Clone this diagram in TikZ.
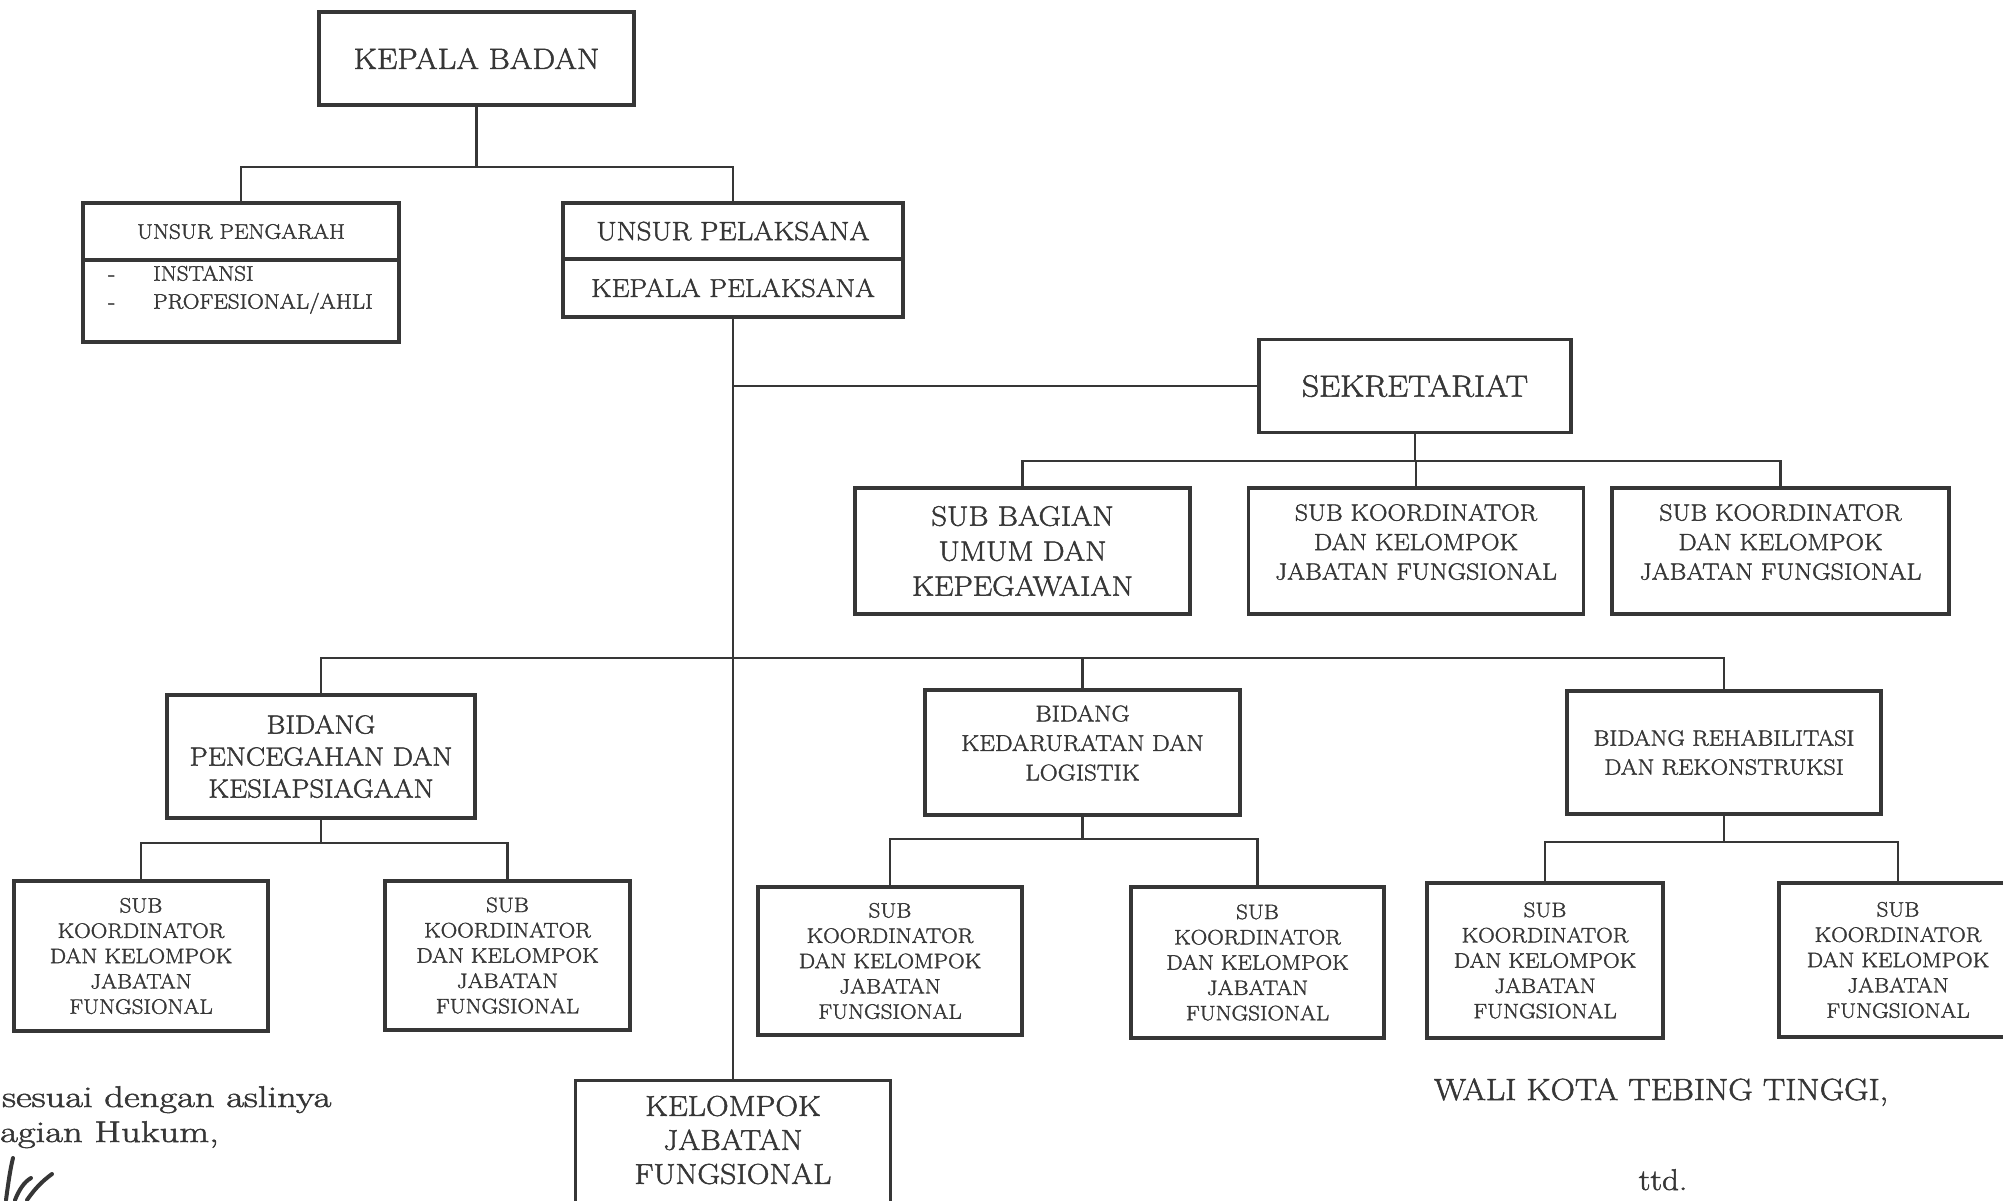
\documentclass[tikz,border=0pt]{standalone}
\usepackage{fontspec}
\setmainfont{Latin Modern Roman}[FakeStretch=1.1, FakeBold=1.6]
\usepackage{graphicx}
\definecolor{ink}{HTML}{363636}
\definecolor{txt}{HTML}{363636}
\newcommand\fsz[2]{\fontsize{#1}{#2}\selectfont}
\tikzset{
  box/.style={draw=ink, line width=3.4pt, inner sep=0pt, align=center, text=txt},
  conn/.style={draw=ink, line width=2.6pt},
  plain/.style={inner sep=0pt, text=txt},
  sig/.style={draw=ink, line width=4pt, line cap=round},
  subbox/.style={box, font=\fsz{20.9}{25.3}},
  skbox/.style={box, minimum width=335, minimum height=126},
  sktext/.style={plain, align=center, font=\fsz{23.4}{29.5}},
}
\begin{document}
\begin{tikzpicture}[x=1pt,y=-1pt]
\useasboundingbox (0,0) rectangle (2003,1200);
\fill[white] (0,0) rectangle (2003,1200);

% top
\node[box, minimum width=315, minimum height=93, font=\fsz{29.5}{35}] (kb) at (476.5,58.5) {KEPALA BADAN};

\node[box, minimum width=316, minimum height=57, font=\fsz{21}{26}] (uptop) at (241,231.5) {UNSUR PENGARAH};
\node[box, minimum width=316, minimum height=82] (upbot) at (241,301) {};
\node[plain, anchor=west, font=\fsz{21}{28}] (upitems) at (108,289)
  {\begin{tabular}{@{}l@{\hspace{38pt}}l@{}}-&INSTANSI\\-&PROFESIONAL/AHLI\end{tabular}};

\node[box, minimum width=340, minimum height=56, font=\fsz{26.4}{31}] (pel) at (733,231) {UNSUR PELAKSANA};
\node[box, minimum width=340, minimum height=58, font=\fsz{25.8}{31}] (kp) at (733,288) {KEPALA PELAKSANA};

% sekretariat
\node[box, minimum width=312, minimum height=93, font=\fsz{30.5}{35}] (sek) at (1415,386) {SEKRETARIAT};
\node[box, minimum width=335, minimum height=126, font=\fsz{28}{35}] (sb) at (1022.5,551) {SUB BAGIAN\\UMUM DAN\\KEPEGAWAIAN};
\node[skbox] (sk1) at (1416,551) {};
\node[sktext] (sk1t) at (1416,542) {SUB KOORDINATOR\\DAN KELOMPOK\\JABATAN FUNGSIONAL};
\node[skbox, minimum width=337] (sk2) at (1780.5,551) {};
\node[sktext] (sk2t) at (1780.5,542) {SUB KOORDINATOR\\DAN KELOMPOK\\JABATAN FUNGSIONAL};

% bidang
\node[box, minimum width=308, minimum height=123, font=\fsz{26.2}{32}] (bp) at (321,756.5) {BIDANG\\PENCEGAHAN DAN\\KESIAPSIAGAAN};
\node[box, minimum width=315, minimum height=125] (bk) at (1082.5,752.5) {};
\node[plain, align=center, font=\fsz{22.7}{29.5}] (bkt) at (1082.5,743) {BIDANG\\KEDARURATAN DAN\\LOGISTIK};
\node[box, minimum width=314, minimum height=123, font=\fsz{22}{29}] (br) at (1724,752.5) {BIDANG REHABILITASI\\DAN REKONSTRUKSI};

% sub koordinator
\node[subbox, minimum width=254, minimum height=150] (s1a) at (141,956) {SUB\\KOORDINATOR\\DAN KELOMPOK\\JABATAN\\FUNGSIONAL};
\node[subbox, minimum width=245, minimum height=149] (s1b) at (507.5,955.5) {SUB\\KOORDINATOR\\DAN KELOMPOK\\JABATAN\\FUNGSIONAL};
\node[subbox, minimum width=264, minimum height=148] (s2a) at (890,961) {SUB\\KOORDINATOR\\DAN KELOMPOK\\JABATAN\\FUNGSIONAL};
\node[subbox, minimum width=253, minimum height=151] (s2b) at (1257.5,962.5) {SUB\\KOORDINATOR\\DAN KELOMPOK\\JABATAN\\FUNGSIONAL};
\node[subbox, minimum width=236, minimum height=155] (s3a) at (1545,960.5) {SUB\\KOORDINATOR\\DAN KELOMPOK\\JABATAN\\FUNGSIONAL};
\node[subbox, minimum width=238, minimum height=154] (s3b) at (1898,960) {SUB\\KOORDINATOR\\DAN KELOMPOK\\JABATAN\\FUNGSIONAL};

% kelompok jabatan fungsional
\node[box, anchor=north, minimum width=315, minimum height=200] (kel) at (733,1079) {};
\node[plain, align=center, font=\fsz{28.7}{34}] (keltext) at (733,1140) {KELOMPOK\\JABATAN\\FUNGSIONAL};

% connectors
\coordinate (busA) at (476.5,167);
\draw[conn] (kb.south) -- (busA);
\draw[conn] (uptop.north) |- (busA) -| (pel.north);

\draw[conn] (kp.south) -- (kel.north);
\draw[conn] (sek.west) -- (sek.west -| kp.south);

\coordinate (busS) at (1415,461);
\draw[conn] (sek.south) -- (busS);
\draw[conn] (sb.north) |- (busS) -| (sk2.north);
\draw[conn] (sk1.north) -- (sk1.north |- busS);

\coordinate (busB) at (733,658);
\draw[conn] (bp.north) |- (busB) -| (br.north);
\draw[conn] (bk.north) -- (bk.north |- busB);

\coordinate (bus1) at (321,843);
\draw[conn] (bp.south) -- (bus1);
\draw[conn] (s1a.north) |- (bus1) -| (s1b.north);

\coordinate (bus2) at (1082.5,839);
\draw[conn] (bk.south) -- (bus2);
\draw[conn] (s2a.north) |- (bus2) -| (s2b.north);

\coordinate (bus3) at (1724,842);
\draw[conn] (br.south) -- (bus3);
\draw[conn] (s3a.north) |- (bus3) -| (s3b.north);

% bottom texts
\node[plain, anchor=base west, font=\fsz{30}{36}] (cert1) at (2,1107) {\scalebox{1.17}[1]{sesuai dengan aslinya}};
\node[plain, anchor=base west, font=\fsz{30}{36}] (cert2) at (0,1142) {\scalebox{1.17}[1]{agian Hukum,}};
\draw[sig] (6,1200) .. controls (8,1185) and (10,1170) .. (13,1158);
\draw[sig] (15,1200) .. controls (19,1190) and (24,1182) .. (31,1178);
\draw[sig] (27,1200) .. controls (34,1190) and (41,1182) .. (52,1174);

\node[plain, anchor=base, font=\fsz{30.6}{36}] (wali) at (1661,1100) {WALI KOTA TEBING TINGGI,};
\node[plain, anchor=base, font=\fsz{30}{36}] (ttd) at (1663,1190) {ttd.};
\end{tikzpicture}
\end{document}
